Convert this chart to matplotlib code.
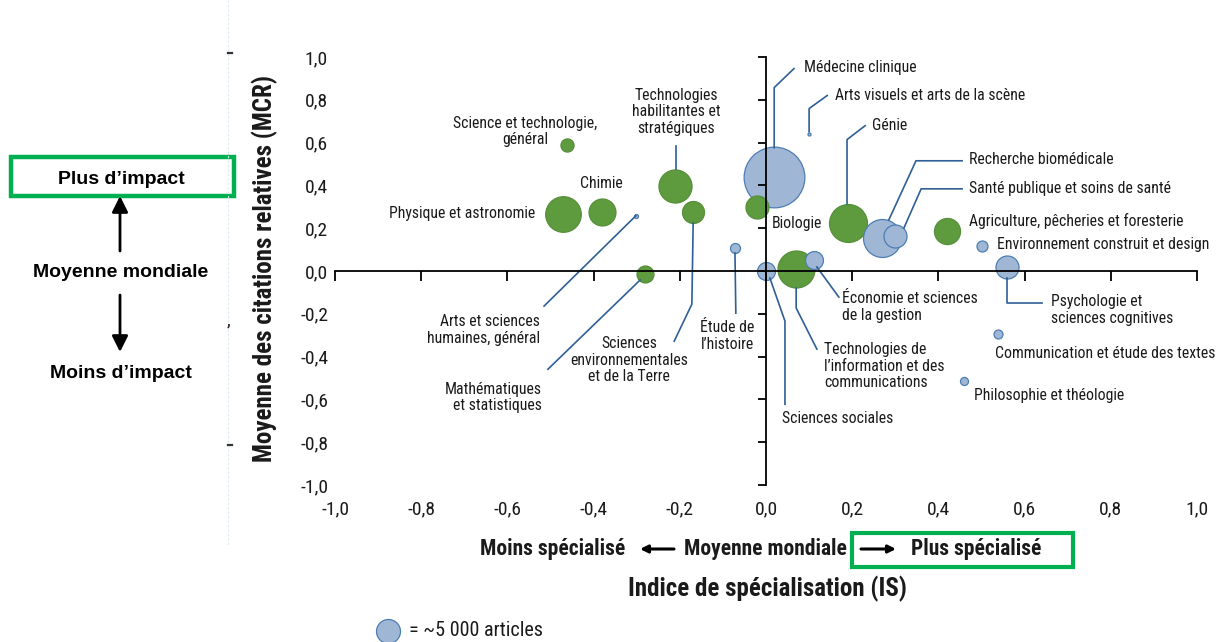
import matplotlib
matplotlib.use("Agg")
import matplotlib.pyplot as plt
from matplotlib import font_manager as fm
import numpy as np
from matplotlib.patches import Rectangle

# ---------------- data ----------------
fields = [
    "Science et technologie, général",
    "Physique et astronomie",
    "Chimie",
    "Technologies habilitantes et stratégiques",
    "Sciences environnementales et de la Terre",
    "Arts et sciences humaines, général",
    "Mathématiques et statistiques",
    "Étude de l’histoire",
    "Sciences sociales",
    "Biologie",
    "Médecine clinique",
    "Arts visuels et arts de la scène",
    "Génie",
    "Recherche biomédicale",
    "Santé publique et soins de santé",
    "Agriculture, pêcheries et foresterie",
    "Environnement construit et design",
    "Psychologie et sciences cognitives",
    "Économie et sciences de la gestion",
    "Technologies de l’information et des communications",
    "Communication et étude des textes",
    "Philosophie et théologie",
]
spec_index = [-0.462, -0.470, -0.381, -0.210, -0.169, -0.301, -0.281, -0.072, 0.000, -0.020,
              0.019, 0.100, 0.190, 0.270, 0.300, 0.421, 0.500, 0.560, 0.111, 0.069, 0.539, 0.459]
mcr = [0.590, 0.268, 0.278, 0.398, 0.276, 0.259, -0.013, 0.109, 0.000, 0.300,
       0.440, 0.640, 0.226, 0.156, 0.164, 0.187, 0.117, 0.019, 0.050, 0.008, -0.293, -0.512]
articles = [1500, 11000, 6300, 9500, 4200, 140, 2500, 870, 2800, 4600,
            32000, 80, 12500, 12500, 4600, 5900, 1050, 4600, 2800, 11900, 700, 560]
colour_group = ["g", "g", "g", "g", "g", "b", "g", "b", "b", "g",
                "b", "b", "g", "b", "b", "g", "b", "b", "b", "g", "b", "b"]

xticks = [-1.0, -0.8, -0.6, -0.4, -0.2, 0.0, 0.2, 0.4, 0.6, 0.8, 1.0]
yticks = [-1.0, -0.8, -0.6, -0.4, -0.2, 0.0, 0.2, 0.4, 0.6, 0.8, 1.0]
legend_articles = 5000

# ---------------- fonts ----------------
def pick(cands):
    for c in cands:
        try:
            fm.findfont(fm.FontProperties(family=c), fallback_to_default=False)
            return c
        except Exception:
            pass
    return "DejaVu Sans"

NARROW = pick(["Roboto Condensed", "Liberation Sans Narrow", "DejaVu Sans Condensed", "Roboto"])
FONT = [NARROW, "DejaVu Sans"]
plt.rcParams["font.family"] = FONT
ARIAL = ["Liberation Sans", "DejaVu Sans"]

# ---------------- layout / style ----------------
W, H, DPI = 1216, 642, 100
GREEN_FILL, GREEN_EDGE = "#5e9b3f", "#568f39"
BLUE_FILL, BLUE_EDGE = "#9fb7d5", "#4d7db3"
LEADER = "#2f5f95"
BOX_GREEN = "#00b050"
TXT = "#1a1a1a"
REF_DIAM_PX = 24.0
LABEL_FS = 11.3

def area(n):
    d_pt = REF_DIAM_PX * np.sqrt(n / legend_articles) * 72.0 / DPI
    return d_pt ** 2

labels = {
    "Science et technologie, général": ("Science et technologie,\ngénéral", (-0.559, 0.651), "center", None),
    "Physique et astronomie": ("Physique et astronomie", (-0.536, 0.267), "right", None),
    "Chimie": ("Chimie", (-0.381, 0.407), "center", None),
    "Technologies habilitantes et stratégiques": ("Technologies\nhabilitantes et\nstratégiques", (-0.209, 0.745), "center",
                                                   [(-0.209, 0.478), (-0.209, 0.585)]),
    "Sciences environnementales et de la Terre": ("Sciences\nenvironnementales\net de la Terre", (-0.318, -0.417), "center",
                                                   [(-0.169, 0.225), (-0.172, -0.155), (-0.213, -0.328)]),
    "Arts et sciences humaines, général": ("Arts et sciences\nhumaines, général", (-0.524, -0.276), "right",
                                           [(-0.302, 0.258), (-0.515, -0.164)]),
    "Mathématiques et statistiques": ("Mathématiques\net statistiques", (-0.520, -0.590), "right",
                                      [(-0.292, -0.042), (-0.506, -0.459)]),
    "Étude de l’histoire": ("Étude de\nl’histoire", (-0.090, -0.304), "center",
                            [(-0.072, 0.084), (-0.070, -0.197)]),
    "Sciences sociales": ("Sciences sociales", (0.037, -0.689), "left",
                          [(0.009, -0.033), (0.044, -0.234), (0.044, -0.623)]),
    "Biologie": ("Biologie", (0.014, 0.220), "left", None),
    "Médecine clinique": ("Médecine clinique", (0.088, 0.951), "left",
                          [(0.019, 0.576), (0.019, 0.857), (0.065, 0.946)]),
    "Arts visuels et arts de la scène": ("Arts visuels et arts de la scène", (0.160, 0.820), "left",
                                         [(0.100, 0.651), (0.100, 0.759), (0.142, 0.820)]),
    "Génie": ("Génie", (0.246, 0.679), "left",
              [(0.188, 0.314), (0.188, 0.614), (0.230, 0.679)]),
    "Recherche biomédicale": ("Recherche biomédicale", (0.471, 0.520), "left",
                              [(0.285, 0.239), (0.348, 0.515), (0.455, 0.515)]),
    "Santé publique et soins de santé": ("Santé publique et soins de santé", (0.471, 0.384), "left",
                                         [(0.320, 0.201), (0.360, 0.384), (0.455, 0.384)]),
    "Agriculture, pêcheries et foresterie": ("Agriculture, pêcheries et foresterie", (0.471, 0.234), "left", None),
    "Environnement construit et design": ("Environnement construit et design", (0.536, 0.122), "left", None),
    "Psychologie et sciences cognitives": ("Psychologie et\nsciences cognitives", (0.661, -0.183), "left",
                                           [(0.559, -0.033), (0.559, -0.150), (0.640, -0.150)]),
    "Économie et sciences de la gestion": ("Économie et sciences\nde la gestion", (0.176, -0.169), "left",
                                           [(0.118, 0.019), (0.169, -0.122)]),
    "Technologies de l’information et des communications": ("Technologies de\nl’information et des\ncommunications",
                                                             (0.135, -0.445), "left",
                                                             [(0.070, -0.080), (0.070, -0.173), (0.118, -0.365)]),
    "Communication et étude des textes": ("Communication et étude des textes", (0.531, -0.384), "left", None),
    "Philosophie et théologie": ("Philosophie et théologie", (0.483, -0.581), "left", None),
}

def fx(px):
    return px / W

def fy(py):
    return 1 - py / H

fig = plt.figure(figsize=(W / DPI, H / DPI), dpi=DPI)
ax = fig.add_axes([fx(335), fy(485), (1197 - 335) / W, (485 - 57) / H])
ax.set_xlim(-1, 1)
ax.set_ylim(-1, 1)
for sp in ax.spines.values():
    sp.set_visible(False)

order = np.argsort(articles)[::-1]
for rank, i in enumerate(order):
    fc, ec = (GREEN_FILL, GREEN_EDGE) if colour_group[i] == "g" else (BLUE_FILL, BLUE_EDGE)
    ax.scatter(spec_index[i], mcr[i], s=area(articles[i]), facecolor=fc, edgecolor=ec,
               linewidth=0.9, zorder=3 + rank * 0.01, clip_on=False)

ax.plot([-1, 1], [0, 0], color="black", lw=1.3, zorder=5, clip_on=False)
ax.plot([0, 0], [-1, 1], color="black", lw=1.3, zorder=5, clip_on=False)
ax.plot(xticks, np.zeros(len(xticks)), ls="none", marker=3, ms=7, mew=1.3, color="black", zorder=5, clip_on=False)
ax.plot(np.zeros(len(yticks)), yticks, ls="none", marker=0, ms=6, mew=1.3, color="black", zorder=5, clip_on=False)

fmt = lambda v: f"{v:.1f}".replace(".", ",")
ax.set_xticks(xticks)
ax.set_xticklabels([fmt(v) for v in xticks])
ax.set_yticks(yticks)
ax.set_yticklabels([fmt(v) for v in yticks])
ax.tick_params(axis="x", length=0, pad=11, labelsize=14, labelcolor=TXT)
ax.tick_params(axis="y", length=0, pad=5, labelsize=14, labelcolor=TXT)

for name, (txt, pos, ha, path) in labels.items():
    ax.text(pos[0], pos[1], txt, ha=ha, va="center", fontsize=LABEL_FS, color=TXT,
            linespacing=1.12, zorder=6, clip_on=False)
    if path:
        xs, ys = zip(*path)
        ax.plot(xs, ys, color=LEADER, lw=1.2, zorder=4, clip_on=False)

fig.text(fx(265), fy(268), "Moyenne des citations relatives (MCR)", rotation=90, ha="center", va="center",
         fontsize=18, fontweight="bold", color=TXT)
fig.text(fx(767), fy(589), "Indice de spécialisation (IS)", ha="center", va="center",
         fontsize=18, fontweight="bold", color=TXT)

fig.text(fx(625), fy(549), "Moins spécialisé", ha="right", va="center", fontsize=15.5, fontweight="bold", color=TXT)
fig.text(fx(684), fy(549), "Moyenne mondiale", ha="left", va="center", fontsize=15.5, fontweight="bold", color=TXT)
fig.text(fx(911), fy(549), "Plus spécialisé", ha="left", va="center", fontsize=15.5, fontweight="bold", color=TXT)

def fig_arrow(p0, p1, lw=2.0, scale=10):
    fig.add_artist(matplotlib.patches.FancyArrowPatch((fx(p0[0]), fy(p0[1])), (fx(p1[0]), fy(p1[1])),
                                                      transform=fig.transFigure, arrowstyle="-|>",
                                                      lw=lw, color="black", mutation_scale=scale,
                                                      shrinkA=0, shrinkB=0))

fig_arrow((674, 549), (640, 549), lw=2.2, scale=11)
fig_arrow((861, 549), (896, 549), lw=2.2, scale=11)
fig.add_artist(Rectangle((fx(852), fy(567)), fx(1073) - fx(852), fy(533) - fy(567), transform=fig.transFigure,
                         fill=False, edgecolor=BOX_GREEN, lw=3))

fig.text(fx(121), fy(180), "Plus d’impact", ha="center", va="center", fontsize=14, fontweight="bold",
         family=ARIAL, color="black")
fig.text(fx(121), fy(272), "Moyenne mondiale", ha="center", va="center", fontsize=14, fontweight="bold",
         family=ARIAL, color="black")
fig.text(fx(121), fy(373), "Moins d’impact", ha="center", va="center", fontsize=14, fontweight="bold",
         family=ARIAL, color="black")
fig.add_artist(Rectangle((fx(11), fy(196)), fx(234) - fx(11), fy(157) - fy(196), transform=fig.transFigure,
                         fill=False, edgecolor=BOX_GREEN, lw=3.2))
fig_arrow((120, 251), (120, 196), lw=2.0, scale=24)
fig_arrow((120, 295), (120, 352), lw=2.0, scale=24)

# faint scan artefacts at the left of the chart
fig.add_artist(matplotlib.lines.Line2D([fx(228), fx(228)], [fy(0), fy(545)], transform=fig.transFigure,
                                       color="#d5ecf3", lw=0.8, ls=(0, (2, 2))))
for py in (53, 445):
    fig.add_artist(matplotlib.lines.Line2D([fx(228), fx(232)], [fy(py), fy(py)], transform=fig.transFigure,
                                           color="#333333", lw=1.6))
fig.text(fx(229), fy(322), ",", ha="center", va="center", fontsize=11, fontweight="bold", color="#333333")

leg_ax = fig.add_axes([0, 0, 1, 1], facecolor="none")
leg_ax.set_xlim(0, W)
leg_ax.set_ylim(H, 0)
leg_ax.axis("off")
leg_ax.scatter([388], [631], s=area(legend_articles), facecolor=BLUE_FILL, edgecolor=BLUE_EDGE, linewidth=0.9,
               clip_on=False)
leg_ax.text(409, 631, "= ~5 000 articles", ha="left", va="center", fontsize=14.5, color=TXT)

fig.savefig("out.png", dpi=DPI)
